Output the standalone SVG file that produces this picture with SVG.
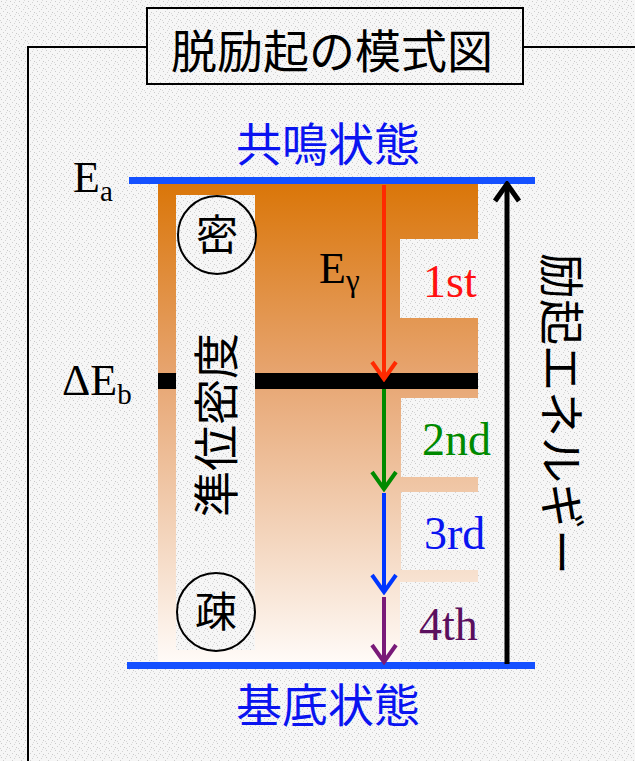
<svg xmlns="http://www.w3.org/2000/svg" width="635" height="761" viewBox="0 0 635 761">
  <defs>
    <pattern id="noise" width="9" height="7" patternUnits="userSpaceOnUse">
      <rect width="9" height="7" fill="#f6f6f6"/>
      <rect x="1" y="1" width="1" height="1" fill="#c9c9c9"/>
      <rect x="5" y="2" width="1" height="1" fill="#d2d2d2"/>
      <rect x="3" y="4" width="1" height="1" fill="#cfcfcf"/>
      <rect x="7" y="5" width="1" height="1" fill="#c6c6c6"/>
      <rect x="0" y="6" width="1" height="1" fill="#d6d6d6"/>
      <rect x="6" y="0" width="1" height="1" fill="#dadada"/>
    </pattern>
    <linearGradient id="dens" x1="0" y1="184" x2="0" y2="663" gradientUnits="userSpaceOnUse">
      <stop offset="0" stop-color="#da7609"/>
      <stop offset="0.4" stop-color="#e7a571"/>
      <stop offset="0.75" stop-color="#f4d7c0"/>
      <stop offset="1" stop-color="#fffbf8"/>
    </linearGradient>
    <marker id="hRed" viewBox="-20 -15 23 30" refX="0" refY="0" markerWidth="23" markerHeight="30" markerUnits="userSpaceOnUse" orient="auto">
      <path d="M-17,-12 L0,0 L-17,12" fill="none" stroke="#ff2a00" stroke-width="4"/>
    </marker>
    <marker id="hGreen" viewBox="-20 -15 23 30" refX="0" refY="0" markerWidth="23" markerHeight="30" markerUnits="userSpaceOnUse" orient="auto">
      <path d="M-17,-12 L0,0 L-17,12" fill="none" stroke="#008a00" stroke-width="4"/>
    </marker>
    <marker id="hBlue" viewBox="-20 -15 23 30" refX="0" refY="0" markerWidth="23" markerHeight="30" markerUnits="userSpaceOnUse" orient="auto">
      <path d="M-17,-12 L0,0 L-17,12" fill="none" stroke="#0036ff" stroke-width="4"/>
    </marker>
    <marker id="hPurple" viewBox="-20 -15 23 30" refX="0" refY="0" markerWidth="23" markerHeight="30" markerUnits="userSpaceOnUse" orient="auto">
      <path d="M-17,-12 L0,0 L-17,12" fill="none" stroke="#7a1a78" stroke-width="4"/>
    </marker>
    <marker id="hBlack" viewBox="-20 -15 23 30" refX="0" refY="0" markerWidth="23" markerHeight="30" markerUnits="userSpaceOnUse" orient="auto">
      <path d="M-17,-12 L0,0 L-17,12" fill="none" stroke="#000" stroke-width="5"/>
    </marker>
  </defs>
  <style>
    .jp { font-family: "Noto Sans CJK JP", "Noto Sans", sans-serif; }
    .tm { font-family: "Liberation Serif", "Times New Roman", serif; }
    .frame { fill: none; stroke: #000; stroke-width: 2; }
    .gap { fill: url(#noise); }
    .lvl { fill: #1450ff; }
  </style>

  <rect width="635" height="761" fill="url(#noise)"/>

  <g id="frame">
    <path class="frame" d="M28,761 V47 H147 M523,47 H635"/>
  </g>

  <g id="title">
    <rect x="147" y="8" width="376" height="76" class="frame"/>
    <text x="332" y="68" class="jp" font-size="46" text-anchor="middle" fill="#000">脱励起の模式図</text>
  </g>

  <g id="density-band">
    <rect x="158" y="184" width="320" height="479" fill="url(#dens)"/>
    <rect x="158" y="373" width="320" height="16" fill="#000"/>
    <rect class="gap" x="176" y="195" width="79" height="455"/>
    <rect class="gap" x="400" y="239" width="79" height="79"/>
    <rect class="gap" x="401" y="398" width="78" height="79"/>
    <rect class="gap" x="401" y="492" width="78" height="78"/>
    <rect class="gap" x="400" y="582" width="79" height="80"/>
  </g>

  <g id="resonance-level">
    <rect class="lvl" x="129" y="177" width="406" height="7"/>
    <text x="328" y="161" class="jp" font-size="46" text-anchor="middle" fill="#0a14f0">共鳴状態</text>
    <text x="73" y="192" class="tm" font-size="44" fill="#000">E<tspan font-size="29" dy="9">a</tspan></text>
  </g>

  <g id="ground-level">
    <rect class="lvl" x="127" y="662" width="408" height="7"/>
    <text x="328" y="722" class="jp" font-size="46" text-anchor="middle" fill="#0a14f0">基底状態</text>
  </g>

  <g id="delta-eb">
    <text x="62" y="395" class="tm" font-size="44" fill="#000">ΔE<tspan font-size="29" dy="9">b</tspan></text>
  </g>

  <g id="density-label">
    <circle cx="217" cy="235" r="39" fill="none" stroke="#000" stroke-width="2"/>
    <text x="217" y="250" class="jp" font-size="42" text-anchor="middle" fill="#000">密</text>
    <circle cx="216" cy="612" r="39" fill="none" stroke="#000" stroke-width="2"/>
    <text x="216" y="627" class="jp" font-size="42" text-anchor="middle" fill="#000">疎</text>
    <text transform="translate(217,425) rotate(-90)" x="0" y="16" class="jp" font-size="46" text-anchor="middle" fill="#000">準位密度</text>
  </g>

  <g id="egamma">
    <text x="319" y="283" class="tm" font-size="44" fill="#000">E<tspan font-size="31" dy="8">γ</tspan></text>
  </g>

  <g id="step-labels" class="tm" font-size="46">
    <text x="423" y="297" fill="#ff1010">1st</text>
    <text x="422" y="455" fill="#008a00">2nd</text>
    <text x="424" y="549" fill="#0a14f0">3rd</text>
    <text x="419" y="640" fill="#5a0f5e">4th</text>
  </g>

  <g id="energy-label">
    <text transform="translate(561,414) rotate(90)" x="0" y="16" class="jp" font-size="46" text-anchor="middle" fill="#000">励起エネルギー</text>
  </g>

  <g id="connectors" fill="none">
    <line x1="384" y1="185" x2="384" y2="379" stroke="#ff2a00" stroke-width="4" marker-end="url(#hRed)"/>
    <line x1="384" y1="389" x2="384" y2="489" stroke="#008a00" stroke-width="4" marker-end="url(#hGreen)"/>
    <line x1="384" y1="493" x2="384" y2="592" stroke="#0036ff" stroke-width="4" marker-end="url(#hBlue)"/>
    <line x1="384" y1="597" x2="384" y2="662" stroke="#7a1a78" stroke-width="4" marker-end="url(#hPurple)"/>
    <line x1="507" y1="664" x2="507" y2="184" stroke="#000" stroke-width="5" marker-end="url(#hBlack)"/>
  </g>
</svg>
